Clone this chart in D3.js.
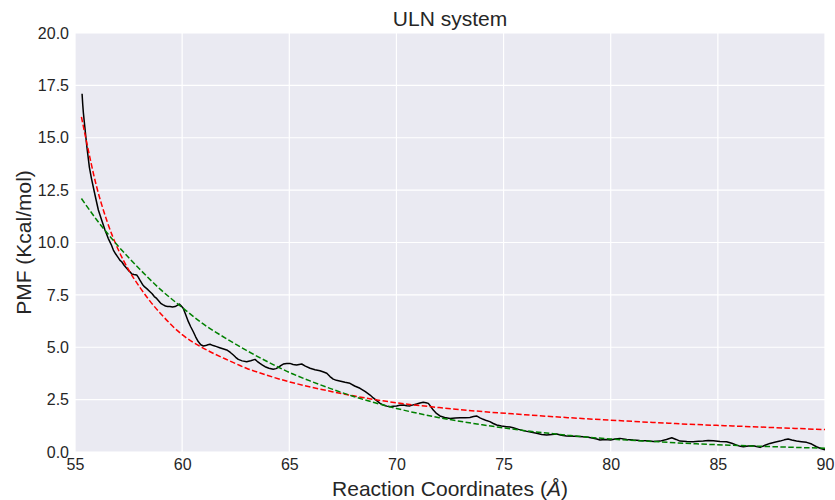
<!DOCTYPE html>
<html><head><meta charset="utf-8">
<script src="https://cdn.jsdelivr.net/npm/d3@7"></script>
<style>body{margin:0;background:#fff;} text{font-family:"Liberation Sans",Arial,sans-serif;fill:#262626;}</style>
</head><body><svg id="c" width="835" height="500"></svg>
<script>
const title = "ULN system";
const xLabelMain = "Reaction Coordinates (";
const xLabelUnit = "Å";
const xLabelEnd = ")";
const yLabel = "PMF (Kcal/mol)";
const xTicks = [55,60,65,70,75,80,85,90];
const yTicks = [0,2.5,5,7.5,10,12.5,15,17.5,20];

const pmfX = [55.33,55.36,55.39,55.43,55.47,55.51,55.55,55.61,55.67,55.76,55.85,55.97,56.09,56.25,56.40,56.55,56.69,56.79,56.90,57.00,57.10,57.18,57.30,57.40,57.50,57.57,57.65,57.75,57.88,57.95,58.03,58.15,58.25,58.35,58.50,58.60,58.70,58.81,58.92,59.02,59.12,59.22,59.32,59.43,59.55,59.67,59.77,59.87,59.95,60.05,60.15,60.29,60.40,60.52,60.63,60.75,60.87,60.99,61.10,61.20,61.30,61.45,61.61,61.75,61.90,62.08,62.25,62.39,62.50,62.62,62.80,63.01,63.20,63.40,63.50,63.63,63.75,63.87,64.05,64.25,64.38,64.49,64.60,64.72,64.88,65.03,65.18,65.34,65.46,65.58,65.75,65.97,66.20,66.43,66.60,66.75,66.90,67.05,67.20,67.40,67.60,67.83,68.05,68.30,68.55,68.77,68.92,69.08,69.22,69.39,69.55,69.70,69.85,70.01,70.15,70.32,70.48,70.63,70.78,70.94,71.10,71.25,71.38,71.49,71.60,71.72,71.87,72.03,72.25,72.50,72.75,72.97,73.20,73.43,73.60,73.74,73.90,74.05,74.20,74.36,74.52,74.68,74.90,75.14,75.30,75.45,75.70,75.92,76.20,76.54,76.78,77.01,77.25,77.48,77.70,77.94,78.30,78.72,78.95,79.19,79.35,79.50,79.75,80.00,80.20,80.43,80.75,81.05,81.35,81.68,82.00,82.30,82.60,82.85,83.05,83.23,83.55,83.85,84.10,84.32,84.55,84.79,85.10,85.41,85.65,85.88,86.05,86.19,86.42,86.65,86.80,86.97,87.20,87.43,87.65,87.90,88.10,88.28,88.45,88.67,88.90,89.14,89.38,89.60,89.80,90.00];
const pmfY = [17.1,16.6,16.2,15.8,15.4,15.0,14.6,14.1,13.6,13.1,12.66,12.1,11.55,11.05,10.6,10.2,9.9,9.64,9.45,9.3,9.15,9.08,8.9,8.78,8.66,8.6,8.5,8.47,8.45,8.35,8.2,8.0,7.88,7.8,7.65,7.55,7.42,7.33,7.2,7.08,7.02,6.97,6.95,6.94,6.92,6.94,7.0,7.06,6.98,6.86,6.6,6.22,5.98,5.74,5.5,5.27,5.12,5.06,5.08,5.12,5.14,5.08,5.03,4.98,4.93,4.87,4.75,4.63,4.52,4.42,4.35,4.31,4.36,4.42,4.33,4.23,4.15,4.07,4.0,3.95,3.98,4.04,4.12,4.2,4.22,4.23,4.18,4.15,4.18,4.2,4.1,4.0,3.93,3.88,3.82,3.76,3.6,3.48,3.42,3.38,3.33,3.28,3.15,3.04,2.88,2.72,2.58,2.45,2.33,2.24,2.19,2.16,2.18,2.2,2.23,2.24,2.21,2.2,2.25,2.29,2.34,2.37,2.35,2.32,2.17,2.0,1.84,1.72,1.65,1.6,1.62,1.64,1.63,1.65,1.69,1.72,1.63,1.56,1.5,1.45,1.36,1.29,1.24,1.21,1.19,1.16,1.08,1.02,0.96,0.89,0.84,0.81,0.84,0.86,0.8,0.76,0.75,0.73,0.7,0.66,0.62,0.57,0.6,0.57,0.62,0.65,0.6,0.57,0.55,0.54,0.5,0.52,0.6,0.68,0.6,0.52,0.5,0.49,0.51,0.52,0.55,0.54,0.5,0.49,0.42,0.33,0.27,0.25,0.29,0.3,0.26,0.22,0.32,0.41,0.47,0.52,0.58,0.62,0.57,0.52,0.49,0.46,0.38,0.25,0.17,0.1];

const redX = [55.3,55.5,56,56.5,57,57.5,58,58.5,59,60,61,62,63,64,65,66,67,68,69,70,72,74,76,78,80,82,84,86,88,90];
const redY = [16.0,15.0,12.7,11.0,9.7,8.7,7.9,7.2,6.6,5.6,4.95,4.45,4.0,3.65,3.35,3.1,2.88,2.68,2.5,2.35,2.12,1.93,1.78,1.64,1.52,1.41,1.31,1.23,1.15,1.07];

const greenX = [55.3,56,57,58,59,60,61,62,63,64,65,66,67,68,69,70,72,74,76,78,80,82,84,86,88,90];
const greenY = [12.1,11.1,9.85,8.75,7.75,6.9,6.1,5.45,4.85,4.3,3.8,3.38,3.0,2.65,2.35,2.08,1.64,1.3,1.02,0.8,0.62,0.5,0.39,0.31,0.24,0.18];

const svg = d3.select("#c");
const L=75, R=825, T=33, B=452;
const x = d3.scaleLinear().domain([55,90]).range([L,R]);
const y = d3.scaleLinear().domain([0,20]).range([B,T]);

svg.append("rect").attr("x",L).attr("y",T).attr("width",R-L).attr("height",B-T).attr("fill","#EAEAF2");
svg.append("defs").append("clipPath").attr("id","clip").append("rect").attr("x",L).attr("y",T).attr("width",R-L).attr("height",B-T);

const gx = svg.append("g").attr("transform",`translate(0,${B})`)
  .call(d3.axisBottom(x).tickValues(xTicks).tickFormat(d3.format("d")).tickSize(0).tickPadding(7));
gx.select(".domain").remove();
gx.selectAll("text").attr("font-size","16px").style("fill","#262626");
const gy = svg.append("g").attr("transform",`translate(${L},0)`)
  .call(d3.axisLeft(y).tickValues(yTicks).tickFormat(d3.format(".1f")).tickSize(0).tickPadding(6));
gy.select(".domain").remove();
gy.selectAll("text").attr("font-size","16px").style("fill","#262626");

const grid = svg.append("g");
grid.selectAll(".vx").data(xTicks).join("line").attr("x1",d=>x(d)).attr("x2",d=>x(d)).attr("y1",T).attr("y2",B).attr("stroke","#fff").attr("stroke-width",1.2);
grid.selectAll(".hy").data(yTicks).join("line").attr("y1",d=>y(d)).attr("y2",d=>y(d)).attr("x1",L).attr("x2",R).attr("stroke","#fff").attr("stroke-width",1.2);

const line = d3.line().x(d=>x(d[0])).y(d=>y(d[1]));
const smooth = d3.line().curve(d3.curveMonotoneX).x(d=>x(d[0])).y(d=>y(d[1]));
const plot = svg.append("g").attr("clip-path","url(#clip)");
plot.append("path").datum(pmfX.map((v,i)=>[v,pmfY[i]])).attr("d",line).attr("fill","none").attr("stroke","#000").attr("stroke-width",1.5).attr("stroke-linejoin","round");
plot.append("path").datum(redX.map((v,i)=>[v,redY[i]])).attr("d",smooth).attr("fill","none").attr("stroke","#ff0000").attr("stroke-width",1.5).attr("stroke-dasharray","5.5,2.4");
plot.append("path").datum(greenX.map((v,i)=>[v,greenY[i]])).attr("d",smooth).attr("fill","none").attr("stroke","#008000").attr("stroke-width",1.5).attr("stroke-dasharray","5.5,2.4");

svg.append("text").attr("x",(L+R)/2).attr("y",26).attr("text-anchor","middle").attr("font-size","21px").text(title);
const xl = svg.append("text").attr("x",(L+R)/2).attr("y",496).attr("text-anchor","middle").attr("font-size","21px");
xl.append("tspan").text(xLabelMain);
xl.append("tspan").attr("font-style","italic").text(xLabelUnit);
xl.append("tspan").text(xLabelEnd);
svg.append("text").attr("transform",`translate(31,${(T+B)/2}) rotate(-90)`).attr("text-anchor","middle").attr("font-size","21px").text(yLabel);
</script></body></html>
